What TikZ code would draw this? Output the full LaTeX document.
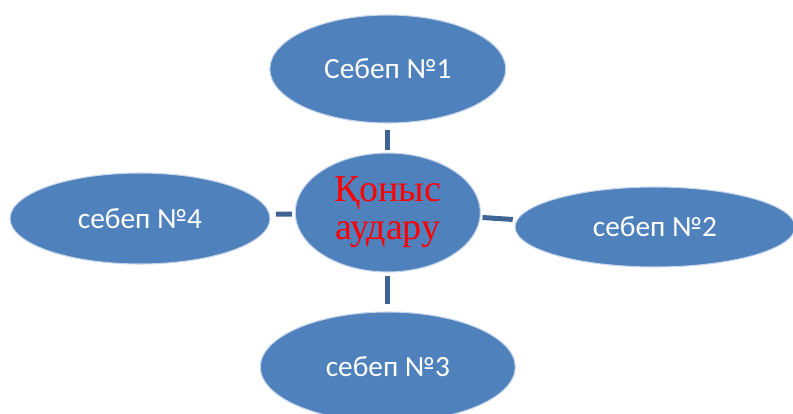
\documentclass[tikz,border=0pt]{standalone}
\usepackage{fontspec}
\setmainfont{Carlito}
\newfontfamily\serifred{Liberation Serif}
\usetikzlibrary{shapes.geometric}
\definecolor{ovalblue}{HTML}{4F81BD}
\definecolor{ovaledge}{HTML}{C8D6EA}
\definecolor{connblue}{RGB}{62,100,148}
\definecolor{redtext}{HTML}{FF0000}
\begin{document}
\begin{tikzpicture}[x=0.75pt,y=-0.75pt,
  oval/.style={ellipse, fill=ovalblue, draw=ovaledge, line width=0.8pt, inner sep=0pt,
    text=white, font=\fontsize{22}{26}\selectfont},
  conn/.style={draw=connblue, line width=3.75pt}]
\useasboundingbox (0,0) rectangle (793,414);
\node[oval, minimum width=138.75pt, minimum height=89.25pt, align=center,
  text=redtext, font=\serifred\fontsize{28.5}{28.5}\selectfont] (c) at (387.8,212.5) {Қоныс\\аудару};
\node[oval, minimum width=177pt, minimum height=81pt] (t) at (387.8,69) {Себеп №1};
\node[oval, minimum width=210pt, minimum height=60pt] (r) at (655,227) {себеп №2};
\node[oval, minimum width=191.25pt, minimum height=82.5pt] (b) at (387.8,367) {себеп №3};
\node[oval, minimum width=195pt, minimum height=68.25pt] (l) at (140,218.5) {себеп №4};
\draw[conn, shorten <=1.5pt, shorten >=4.5pt] (c.north) -- (t.south);
\draw[conn, shorten <=1.5pt, shorten >=3pt] (c.-3) -- (r.177);
\draw[conn, shorten <=2.25pt, shorten >=5.25pt] (c.south) -- (b.north);
\draw[conn, shorten <=2.25pt, shorten >=4.5pt] (c.181) -- (l.2);
\end{tikzpicture}
\end{document}
